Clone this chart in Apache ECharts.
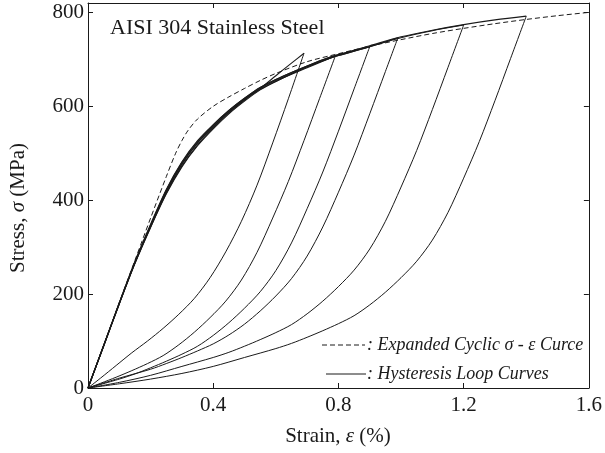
<!DOCTYPE html>
<html><head><meta charset="utf-8">
<script src="https://cdn.jsdelivr.net/npm/echarts@6/dist/echarts.min.js"></script>
<style>html,body{margin:0;padding:0;background:#fff}#c{width:605px;height:453px}</style>
</head><body><div id="c"></div>
<script>
// ---- data (strain %, stress MPa) ----
const xTicks = [0, 0.4, 0.8, 1.2, 1.6];
const yTicks = [0, 200, 400, 600, 800];

const cyclicCurve = [[0,0],[0.05,90],[0.10,182],[0.15,272],[0.20,362],[0.25,450],[0.28,500],[0.30,527],[0.32,549],[0.35,573],[0.40,600],[0.45,620],[0.50,638],[0.55,655],[0.60,670],[0.70,695],[0.80,712],[0.90,728],[1.00,742],[1.10,755],[1.20,766],[1.30,776],[1.40,785],[1.50,793],[1.60,800]];

const loop1Upper = [[0,0],[0.05,90],[0.10,180],[0.15,267],[0.20,345],[0.25,418],[0.30,477],[0.35,522],[0.40,557],[0.45,588],[0.50,615],[0.55,638],[0.60,665],[0.65,692],[0.69,713]];
const loop1Lower = [[0,0],[0.04,21],[0.09,48],[0.14,75],[0.19,100],[0.24,127],[0.29,157],[0.34,191],[0.39,235],[0.44,290],[0.49,355],[0.54,432],[0.59,522],[0.64,616],[0.69,713]];

const loop2Upper = [[0,0],[0.05,90],[0.10,180],[0.15,266],[0.20,343],[0.25,415],[0.30,473],[0.35,518],[0.40,554],[0.45,586],[0.50,613],[0.55,636],[0.60,653],[0.65,668],[0.70,682],[0.75,696],[0.79,707]];
const loop2Lower = [[0,0],[0.04,10],[0.09,23],[0.14,37],[0.19,52],[0.24,69],[0.29,92],[0.34,119],[0.39,150],[0.44,185],[0.49,230],[0.54,289],[0.59,362],[0.64,440],[0.69,527],[0.74,617],[0.79,707]];

const loop3Upper = [[0,0],[0.05,90],[0.10,181],[0.15,268],[0.20,347],[0.25,421],[0.30,480],[0.35,525],[0.40,560],[0.45,591],[0.50,617],[0.55,640],[0.60,657],[0.65,672],[0.70,686],[0.75,699],[0.80,710],[0.90,727]];
const loop3Lower = [[0,0],[0.10,19],[0.15,30],[0.20,43],[0.25,57],[0.30,72],[0.35,89],[0.40,112],[0.45,139],[0.50,170],[0.55,205],[0.60,250],[0.65,309],[0.70,382],[0.75,460],[0.80,547],[0.85,637],[0.90,727]];

const loop4Upper = [[0,0],[0.05,89],[0.10,179],[0.15,265],[0.20,342],[0.25,413],[0.30,471],[0.35,516],[0.40,552],[0.45,584],[0.50,611],[0.55,635],[0.60,653],[0.65,669],[0.70,684],[0.75,697],[0.80,708],[0.90,727],[0.99,746]];
const loop4Lower = [[0,0],[0.10,21],[0.20,40],[0.25,52],[0.30,65],[0.35,79],[0.40,94],[0.45,113],[0.50,136],[0.55,164],[0.60,196],[0.65,233],[0.70,281],[0.75,343],[0.80,417],[0.85,496],[0.90,584],[0.95,674],[0.99,746]];

const loop5Upper = [[0,0],[0.05,90],[0.10,180],[0.15,267],[0.20,345],[0.25,418],[0.30,477],[0.35,522],[0.40,557],[0.45,588],[0.50,615],[0.55,638],[0.60,655],[0.65,670],[0.70,684],[0.75,697],[0.80,708],[0.90,727],[1.00,746],[1.10,761],[1.20,773]];
const loop5Lower = [[0,0],[0.10,12],[0.20,27],[0.30,46],[0.40,65],[0.45,76],[0.50,89],[0.55,103],[0.60,118],[0.65,135],[0.70,158],[0.75,185],[0.80,216],[0.85,251],[0.90,296],[0.95,355],[1.00,428],[1.05,506],[1.10,593],[1.15,683],[1.20,773]];

const loop6Upper = [[0,0],[0.05,91],[0.10,182],[0.15,270],[0.20,349],[0.25,423],[0.30,482],[0.35,527],[0.40,561],[0.45,591],[0.50,617],[0.55,640],[0.60,657],[0.65,672],[0.70,686],[0.75,699],[0.80,710],[0.90,729],[1.00,748],[1.10,762],[1.20,774],[1.30,784],[1.40,792]];
const loop6Lower = [[0,0],[0.10,9],[0.20,19],[0.30,31],[0.40,46],[0.50,65],[0.60,84],[0.65,95],[0.70,108],[0.75,122],[0.80,137],[0.85,154],[0.90,177],[0.95,204],[1.00,235],[1.05,270],[1.10,315],[1.15,374],[1.20,447],[1.25,525],[1.30,612],[1.35,702],[1.40,792]];

const loopBranches = [loop1Upper, loop1Lower, loop2Upper, loop2Lower, loop3Upper, loop3Lower,
                      loop4Upper, loop4Lower, loop5Upper, loop5Lower, loop6Upper, loop6Lower];

const titleText = 'AISI 304 Stainless Steel';
const legendCyclic = ': Expanded Cyclic σ - ε Curce';
const legendLoops = ': Hysteresis Loop Curves';

// ---- chart ----
const FONT = '"Liberation Serif", "Times New Roman", serif';
const INK = '#1a1a1a';
const chart = echarts.init(document.getElementById('c'), null, {renderer: 'canvas'});

function axisCommon(extra) {
  return Object.assign({
    type: 'value',
    axisLine: {show: true, onZero: false, lineStyle: {color: INK, width: 1}},
    axisTick: {show: true, inside: true, length: 5, lineStyle: {color: INK, width: 1}},
    splitLine: {show: false}
  }, extra);
}

const series = loopBranches.map((d, i) => ({
  type: 'line', data: d, xAxisIndex: 0, yAxisIndex: 0,
  showSymbol: false, smooth: 0.3,
  lineStyle: {color: INK, width: i % 2 === 0 ? 1.1 : 1},
  silent: true, z: 3
}));
series.push({
  type: 'line', data: cyclicCurve, xAxisIndex: 0, yAxisIndex: 0,
  showSymbol: false, smooth: 0.3,
  lineStyle: {color: INK, width: 1, type: [5, 3]},
  silent: true, z: 4
});

const option = {
  animation: false,
  backgroundColor: '#fff',
  grid: {left: 88, right: 15, top: 3, bottom: 65},
  xAxis: [
    axisCommon({min: xTicks[0], max: xTicks[xTicks.length - 1], interval: xTicks[1] - xTicks[0], position: 'bottom',
      axisLabel: {color: INK, fontFamily: FONT, fontSize: 21, margin: 7}}),
    axisCommon({min: xTicks[0], max: xTicks[xTicks.length - 1], interval: xTicks[1] - xTicks[0], position: 'top',
      axisLabel: {show: false}})
  ],
  yAxis: [
    axisCommon({min: yTicks[0], max: 820, interval: yTicks[1] - yTicks[0], position: 'left',
      axisLabel: {color: INK, fontFamily: FONT, fontSize: 21, margin: 4, showMaxLabel: false,
        formatter: v => (yTicks.indexOf(v) >= 0 ? String(v) : '')}}),
    axisCommon({min: yTicks[0], max: 820, interval: yTicks[1] - yTicks[0], position: 'right',
      axisLabel: {show: false}})
  ],
  series: series,
  graphic: [
    {type: 'text', x: 110, y: 28, z: 10, style: {text: titleText, fill: INK, font: '22px ' + FONT, verticalAlign: 'middle', align: 'left'}},
    {type: 'line', z: 10, shape: {x1: 322, y1: 345, x2: 365, y2: 345}, style: {stroke: INK, lineWidth: 1, lineDash: [5, 3]}},
    {type: 'text', x: 367, y: 345, z: 10, style: {text: legendCyclic, fill: INK, font: 'italic 18px ' + FONT, verticalAlign: 'middle', align: 'left'}},
    {type: 'line', z: 10, shape: {x1: 326, y1: 374, x2: 366, y2: 374}, style: {stroke: INK, lineWidth: 1}},
    {type: 'text', x: 367, y: 374, z: 10, style: {text: legendLoops, fill: INK, font: 'italic 18px ' + FONT, verticalAlign: 'middle', align: 'left'}},
    {type: 'text', x: 338, y: 436, z: 10, style: {text: 'Strain, {i|ε} (%)', fill: INK, font: '21px ' + FONT, verticalAlign: 'middle', align: 'center',
      rich: {i: {font: 'italic 21px ' + FONT, fill: INK}}}},
    {type: 'text', x: 18, y: 208, rotation: Math.PI / 2, z: 10, style: {text: 'Stress, {i|σ} (MPa)', fill: INK, font: '21px ' + FONT, verticalAlign: 'middle', align: 'center',
      rich: {i: {font: 'italic 21px ' + FONT, fill: INK}}}}
  ]
};
chart.setOption(option);
</script>
</body></html>
